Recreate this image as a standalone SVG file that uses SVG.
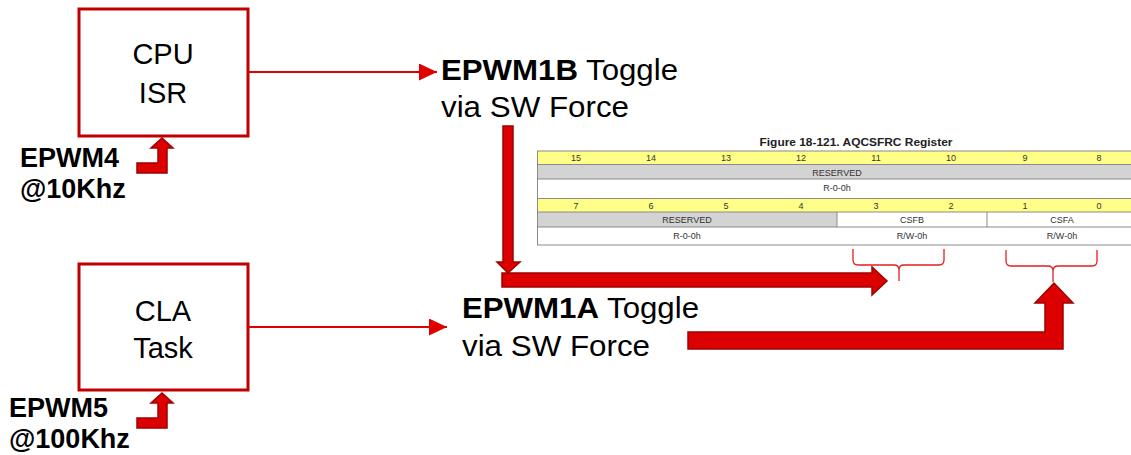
<svg xmlns="http://www.w3.org/2000/svg" width="1131" height="455" viewBox="0 0 1131 455">
<style>
.box{fill:#fff;stroke:#c00000;stroke-width:3}
.lbl{font-family:"Liberation Sans",Arial,sans-serif;font-size:29px;fill:#000;text-anchor:middle}
.txt{font-family:"Liberation Sans",Arial,sans-serif;font-size:29px;fill:#000}
.src{font-family:"Liberation Sans",Arial,sans-serif;font-size:27px;font-weight:bold;fill:#000}
.line{stroke:#e00000;stroke-width:2;fill:none}
.big{fill:#dd0000;stroke:#a00000;stroke-width:1.5;stroke-linejoin:miter}
.brace{stroke:#e02020;stroke-width:1.3;fill:none}
.yel{fill:#ffff88}
.gry{fill:#d3d3d3}
.wht{fill:#fff}
.rl{stroke:#8a8a8a;stroke-width:1}
.rt{font-family:"Liberation Sans",Arial,sans-serif;font-size:9px;fill:#333;text-anchor:middle}
</style>
<defs>
<marker id="ah" viewBox="0 0 10 10" refX="10" refY="5" markerWidth="9" markerHeight="8" markerUnits="userSpaceOnUse" orient="auto" preserveAspectRatio="none">
<path d="M0,0 L10,5 L0,10 Z" fill="#e00000"/>
</marker>
<marker id="ah2" viewBox="0 0 10 10" refX="10" refY="5" markerWidth="18" markerHeight="17" markerUnits="userSpaceOnUse" orient="auto" preserveAspectRatio="none">
<path d="M0,0 L10,5 L0,10 Z" fill="#e00000"/>
</marker>
</defs>

<g id="register">
<text x="856" y="146" font-family="Liberation Sans,Arial,sans-serif" font-size="11" font-weight="bold" fill="#222" text-anchor="middle" textLength="193" lengthAdjust="spacingAndGlyphs">Figure 18-121. AQCSFRC Register</text>
<rect class="yel" x="537" y="151" width="600" height="13"/>
<rect class="gry" x="537" y="165" width="600" height="14"/>
<rect class="wht" x="537" y="179" width="600" height="19"/>
<rect class="yel" x="537" y="199" width="600" height="13"/>
<rect class="gry" x="537" y="212" width="300" height="15"/>
<line class="rl" x1="537" y1="151" x2="1137" y2="151"/>
<line class="rl" x1="537" y1="164.5" x2="1137" y2="164.5"/>
<line class="rl" x1="537" y1="179" x2="1137" y2="179"/>
<line class="rl" x1="537" y1="198.5" x2="1137" y2="198.5"/>
<line class="rl" x1="537" y1="212" x2="1137" y2="212"/>
<line class="rl" x1="537" y1="227" x2="1137" y2="227"/>
<line class="rl" x1="537" y1="245" x2="1137" y2="245"/>
<line class="rl" x1="537.5" y1="151" x2="537.5" y2="245"/>
<line class="rl" x1="837" y1="212" x2="837" y2="227"/>
<line class="rl" x1="987" y1="212" x2="987" y2="227"/>
<g>
<text class="rt" x="576" y="161">15</text>
<text class="rt" x="651" y="161">14</text>
<text class="rt" x="726" y="161">13</text>
<text class="rt" x="801" y="161">12</text>
<text class="rt" x="876" y="161">11</text>
<text class="rt" x="951" y="161">10</text>
<text class="rt" x="1025" y="161">9</text>
<text class="rt" x="1099" y="161">8</text>
<text class="rt" x="837" y="176">RESERVED</text>
<text class="rt" x="837" y="191">R-0-0h</text>
<text class="rt" x="576" y="209">7</text>
<text class="rt" x="651" y="209">6</text>
<text class="rt" x="726" y="209">5</text>
<text class="rt" x="801" y="209">4</text>
<text class="rt" x="876" y="209">3</text>
<text class="rt" x="951" y="209">2</text>
<text class="rt" x="1025" y="209">1</text>
<text class="rt" x="1099" y="209">0</text>
<text class="rt" x="687" y="223">RESERVED</text>
<text class="rt" x="912" y="223">CSFB</text>
<text class="rt" x="1062" y="223">CSFA</text>
<text class="rt" x="687" y="239">R-0-0h</text>
<text class="rt" x="912" y="239">R/W-0h</text>
<text class="rt" x="1062" y="239">R/W-0h</text>
</g>
</g>

<g id="cpu-isr">
<rect class="box" x="79" y="9" width="169" height="127"/>
<text class="lbl" x="163" y="64">CPU</text>
<text class="lbl" x="163" y="103">ISR</text>
</g>

<g id="cla-task">
<rect class="box" x="79" y="264" width="169" height="126"/>
<text class="lbl" x="163" y="321">CLA</text>
<text class="lbl" x="163" y="358">Task</text>
</g>

<g id="epwm4">
<text class="src" x="20" y="167">EPWM4</text>
<text class="src" x="20" y="198">@10Khz</text>
</g>

<g id="epwm5">
<text class="src" x="9" y="417">EPWM5</text>
<text class="src" x="9" y="448">@100Khz</text>
</g>

<g id="epwm1b">
<text class="txt" x="441" y="80" textLength="237" lengthAdjust="spacingAndGlyphs"><tspan font-weight="bold">EPWM1B</tspan> Toggle</text>
<text class="txt" x="441" y="117" textLength="188" lengthAdjust="spacingAndGlyphs">via SW Force</text>
</g>

<g id="epwm1a">
<text class="txt" x="462" y="318" textLength="237" lengthAdjust="spacingAndGlyphs"><tspan font-weight="bold">EPWM1A</tspan> Toggle</text>
<text class="txt" x="462" y="356" textLength="188" lengthAdjust="spacingAndGlyphs">via SW Force</text>
</g>

<g id="connectors">
<line class="line" x1="248" y1="72" x2="437" y2="72" marker-end="url(#ah2)"/>
<line class="line" x1="248" y1="327" x2="447" y2="327" marker-end="url(#ah2)"/>
<polygon class="big" points="137,163 158,163 158,148 151,148 162,138 173,148 167,148 167,173 137,173"/>
<polygon class="big" points="137,418 158,418 158,403 151,403 162,393 173,403 167,403 167,428 137,428"/>
<polygon class="big" points="503,126 513,126 513,262 520,262 508,273 497,262 503,262"/>
<polygon class="big" points="502,273 872,273 872,267 887,281 872,295 872,287 502,287"/>
<polygon class="big" points="688,332 1045,332 1045,303 1035,303 1054,283 1073,303 1063,303 1063,349 688,349"/>
<path class="brace" d="M853,249 L853,260 Q853,265 858,265 L894,265 Q899,265 899,270 L899,281 M899,270 Q899,265 904,265 L939,265 Q944,265 944,260 L944,249"/>
<path class="brace" d="M1006,250 L1006,261 Q1006,266 1011,266 L1048,266 Q1053,266 1053,271 L1053,282 M1053,271 Q1053,266 1058,266 L1092,266 Q1097,266 1097,261 L1097,250"/>
</g>
</svg>
